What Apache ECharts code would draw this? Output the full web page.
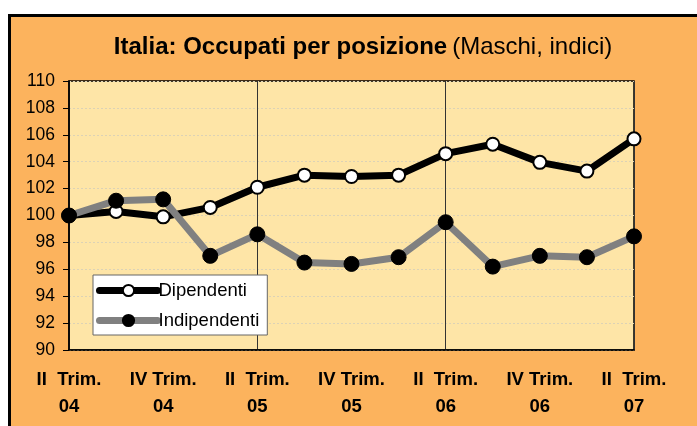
<!DOCTYPE html>
<html>
<head>
<meta charset="utf-8">
<script src="https://cdn.jsdelivr.net/npm/echarts@6/dist/echarts.min.js"></script>
<style>
html,body{margin:0;padding:0;background:#fff;}
#c{width:697px;height:426px;}
</style>
</head>
<body>
<div id="c"></div>
<script>
const categories = ['II  Trim.\n04','III Trim.\n04','IV Trim.\n04','I Trim.\n05','II  Trim.\n05','III Trim.\n05','IV Trim.\n05','I Trim.\n06','II  Trim.\n06','III Trim.\n06','IV Trim.\n06','I Trim.\n07','II  Trim.\n07'];
const dipendenti = [100.0, 100.3, 99.9, 100.6, 102.1, 103.0, 102.9, 103.0, 104.6, 105.3, 103.95, 103.3, 105.7];
const indipendenti = [100.0, 101.1, 101.2, 97.0, 98.6, 96.5, 96.4, 96.9, 99.5, 96.2, 97.0, 96.9, 98.45];
const yTicks = {min: 90, max: 110, interval: 2};

const FONT = '"Liberation Sans", Arial, sans-serif';
const chart = echarts.init(document.getElementById('c'), null, {renderer: 'canvas'});
chart.setOption({
  animation: false,
  backgroundColor: '#ffffff',
  graphic: [{
    type: 'rect', z: -10, silent: true,
    shape: {x: 9.5, y: 15.5, width: 700, height: 420},
    style: {fill: '#FCB35D', stroke: '#000', lineWidth: 3}
  }],
  title: {
    text: '{b|Italia: Occupati per posizione} {n|(Maschi, indici)}',
    left: 358, top: 30, textAlign: 'center',
    textStyle: {
      rich: {
        b: {fontFamily: FONT, fontSize: 24, fontWeight: 'bold', color: '#000'},
        n: {fontFamily: FONT, fontSize: 24, fontWeight: 'normal', color: '#000'}
      }
    }
  },
  grid: {
    left: 69, top: 81, right: 63, bottom: 76,
    show: true, backgroundColor: '#FEE5A7', borderColor: '#000', borderWidth: 1.5
  },
  legend: {
    orient: 'vertical', left: 93, top: 275,
    backgroundColor: '#fff', borderColor: '#666', borderWidth: 1,
    padding: [6, 8, 5, 3], itemWidth: 58, itemHeight: 14, itemGap: 11,
    lineStyle: {width: 7, cap: 'round'},
    textStyle: {fontFamily: FONT, fontSize: 18.5, color: '#000', padding: [0,0,0,-4]},
    data: ['Dipendenti', 'Indipendenti']
  },
  xAxis: {
    type: 'category', data: categories, boundaryGap: false,
    axisLine: {show: true, lineStyle: {color: '#000', width: 1.5}},
    axisTick: {show: false},
    axisLabel: {
      interval: 1, margin: 16, lineHeight: 27,
      fontFamily: FONT, fontSize: 18.5, fontWeight: 'bold', color: '#000'
    },
    splitLine: {show: true, interval: 3, lineStyle: {color: '#333', width: 1}}
  },
  yAxis: {
    type: 'value', min: yTicks.min, max: yTicks.max, interval: yTicks.interval,
    axisLine: {show: true, lineStyle: {color: '#000', width: 1.5}},
    axisTick: {show: true, inside: false, length: 6, lineStyle: {color: '#000'}},
    axisLabel: {margin: 14, fontFamily: FONT, fontSize: 17.5, color: '#000'},
    splitLine: {show: true, lineStyle: {color: '#dcd2b6', type: [2, 2], width: 1}}
  },
  series: [
    {
      name: 'Dipendenti', type: 'line', data: dipendenti,
      symbol: 'circle', symbolSize: 13,
      lineStyle: {color: '#000', width: 7},
      itemStyle: {color: '#fff', borderColor: '#000', borderWidth: 2}
    },
    {
      name: 'Indipendenti', type: 'line', data: indipendenti,
      symbol: 'circle', symbolSize: 15,
      lineStyle: {color: '#808080', width: 7},
      itemStyle: {color: '#000', borderColor: '#000', borderWidth: 1}
    }
  ]
});
</script>
</body>
</html>
